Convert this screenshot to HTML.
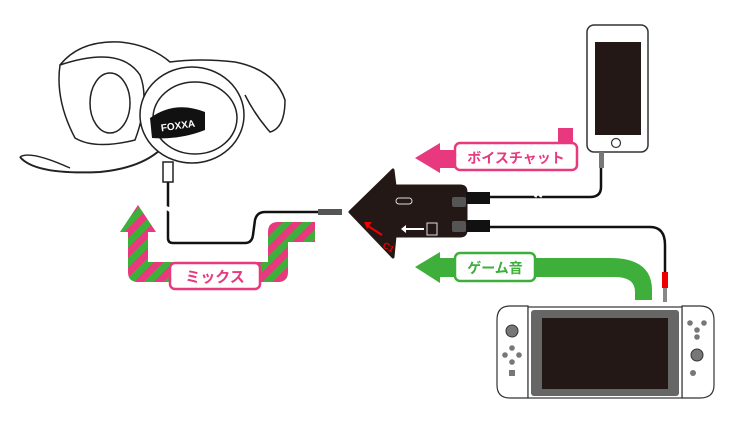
<!DOCTYPE html>
<html><head><meta charset="utf-8"><style>
html,body{margin:0;padding:0;background:#fff;width:738px;height:430px;overflow:hidden}
text{font-family:"Liberation Sans","Noto Sans CJK JP",sans-serif;font-weight:bold}
</style></head><body>
<svg width="738" height="430" viewBox="0 0 738 430" xmlns="http://www.w3.org/2000/svg">
<defs>
<pattern id="st" width="14" height="14" patternUnits="userSpaceOnUse" patternTransform="rotate(45)">
<rect width="14" height="14" fill="#3daf3a"/><rect width="7" height="14" fill="#e8387e"/>
</pattern>
</defs>
<!-- Mix arrow -->
<path d="M120,232 L138,205 L156,232 L148,232 L148,262 L268,262 L268,232 Q268,222 278,222 L315,222 L315,242 L288,242 L288,272 Q288,282 278,282 L138,282 Q128,282 128,272 L128,232 Z" fill="url(#st)"/>
<rect x="170" y="263" width="90" height="26" rx="5" fill="#fff" stroke="#e8387e" stroke-width="2.5"/>
<text x="215" y="282" font-size="15" fill="#e8387e" text-anchor="middle">ミックス</text>
<!-- headset -->
<g fill="none" stroke="#222" stroke-width="1.5">
<path d="M60,65 Q80,40 120,42 Q150,45 170,62 Q200,58 235,62 Q275,70 285,100 Q285,128 270,132 Q255,115 245,95"/>
<path d="M60,65 Q55,100 75,138 Q95,150 135,140 Q150,100 140,75 Q120,45 60,65Z" fill="#fff"/>
<ellipse cx="110" cy="103" rx="20" ry="30"/>
<path d="M20,157 Q35,175 100,172 Q140,168 160,150" stroke-width="2"/>
<path d="M20,157 Q30,150 70,168"/>
<ellipse cx="192" cy="115" rx="52" ry="48" fill="#fff"/>
<ellipse cx="195" cy="118" rx="42" ry="36"/>
<rect x="163" y="162" width="10" height="20" fill="#fff"/>
</g>
<path d="M150,118 Q175,100 205,112 L205,130 Q180,140 152,138Z" fill="#111"/>
<text x="178" y="129" font-size="10" fill="#fff" text-anchor="middle" transform="rotate(-8 178 126)">FOXXA</text>
<path d="M168,182 L168,238 Q168,243 173,243 L245,243 Q252,243 253,235 L255,220 Q257,212 265,212 L320,212" fill="none" stroke="#111" stroke-width="2.5"/>
<rect x="318" y="209" width="24" height="6" fill="#555"/>
<path d="M160,210 q5,-4 10,0 q5,4 10,0" stroke="#fff" stroke-width="4" fill="none"/>
<!-- phone -->
<rect x="587" y="25" width="61" height="127" rx="7" fill="#fff" stroke="#333" stroke-width="1.5"/>
<rect x="595" y="42" width="46" height="93" fill="#231815"/>
<circle cx="616" cy="143" r="4.5" fill="none" stroke="#333" stroke-width="1.2"/>
<rect x="599" y="152" width="5" height="16" fill="#777"/>
<path d="M601,168 L601,187 Q601,197 590,197 L488,197" fill="none" stroke="#111" stroke-width="2.5"/>
<!-- pink arrow -->
<path d="M415,158 L440,143 L440,150 L558,150 L558,128 L573,128 L573,168 L440,168 L440,173 Z" fill="#e8387e"/>
<rect x="455" y="143" width="122" height="27" rx="5" fill="#fff" stroke="#e8387e" stroke-width="2.5"/>
<text x="516" y="163" font-size="14" fill="#e8387e" text-anchor="middle">ボイスチャット</text>
<!-- adapter -->
<path d="M350,212 L393,170 L395,186 L460,186 Q466,186 466,192 L466,230 Q466,236 460,236 L395,236 L393,257 Z" fill="#231815" stroke="#231815" stroke-width="3" stroke-linejoin="round"/>
<rect x="452" y="197" width="14" height="10" rx="2" fill="#555"/>
<rect x="452" y="221" width="14" height="11" rx="2" fill="#555"/>
<rect x="466" y="192" width="24" height="12" fill="#111"/>
<rect x="466" y="220" width="24" height="12" fill="#111"/>
<rect x="396" y="198" width="16" height="6" rx="3" fill="none" stroke="#ddd" stroke-width="1"/>
<rect x="427" y="223" width="10" height="12" fill="none" stroke="#ddd" stroke-width="1"/>
<path d="M405,229 L424,229" stroke="#fff" stroke-width="2"/><path d="M401,229 L406,225 L406,233Z" fill="#fff"/>
<path d="M368,226 L382,235" stroke="#e00" stroke-width="2"/><path d="M364,222 L372,222 L367,229Z" fill="#e00"/>
<text x="382" y="247" font-size="9" fill="#e00" transform="rotate(30 382 247)">C1</text>
<!-- cable 2 -->
<path d="M488,227 L650,227 Q665,227 665,245 L665,272" fill="none" stroke="#111" stroke-width="2.5"/>
<rect x="662" y="272" width="6" height="16" fill="#e00"/>
<rect x="663" y="288" width="4" height="14" fill="#888"/>
<path d="M535,197 q3,-4 0,-8 M540,197 q3,-4 0,-8" stroke="#fff" stroke-width="3" fill="none"/>
<!-- green arrow -->
<path d="M415,267 L440,252 L440,258 L610,258 Q652,258 652,290 L652,300 L635,300 L635,292 Q635,277 615,277 L440,277 L440,283 Z" fill="#3daf3a"/>
<rect x="455" y="253" width="80" height="28" rx="5" fill="#fff" stroke="#3daf3a" stroke-width="2.5"/>
<text x="495" y="273" font-size="14" fill="#3daf3a" text-anchor="middle">ゲーム音</text>
<!-- switch -->
<path d="M510,306 L528,306 L528,398 L510,398 Q497,398 497,385 L497,320 Q497,306 510,306Z" fill="#fff" stroke="#333" stroke-width="1.2"/>
<path d="M700,306 L682,306 L682,398 L700,398 Q714,398 714,385 L714,320 Q714,306 700,306Z" fill="#fff" stroke="#333" stroke-width="1.2"/>
<rect x="528" y="307" width="154" height="91" fill="#fff" stroke="#333" stroke-width="1.2"/>
<rect x="531" y="310" width="148" height="86" rx="3" fill="#666"/>
<rect x="542" y="318" width="126" height="71" fill="#231815"/>
<circle cx="512" cy="331" r="6" fill="#777" stroke="#333"/>
<circle cx="512" cy="348" r="2.8" fill="#777"/><circle cx="505" cy="355" r="2.8" fill="#777"/><circle cx="519" cy="355" r="2.8" fill="#777"/><circle cx="512" cy="362" r="2.8" fill="#777"/>
<rect x="509" y="370" width="6" height="6" fill="#777"/>
<circle cx="697" cy="330" r="2.8" fill="#777"/><circle cx="690" cy="323" r="2.8" fill="#777"/><circle cx="704" cy="323" r="2.8" fill="#777"/><circle cx="697" cy="337" r="2.8" fill="#777"/>
<circle cx="697" cy="355" r="6" fill="#777" stroke="#333"/>
<circle cx="693" cy="373" r="3" fill="#777"/>
</svg>
</body></html>
